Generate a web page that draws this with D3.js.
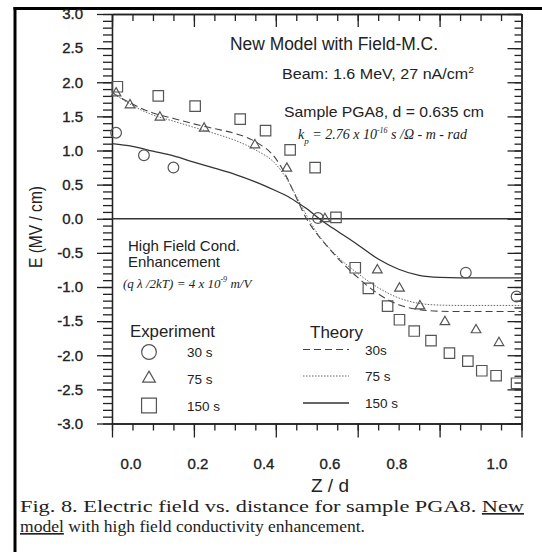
<!DOCTYPE html>
<html><head><meta charset="utf-8">
<script src="https://cdn.jsdelivr.net/npm/d3@7"></script>
<style>body{margin:0;background:#fff}svg{display:block}</style>
</head><body><svg id="c" width="542" height="552"></svg>
<script>
// ---- data ----
const zTheory   = [0, 0.05, 0.1, 0.15, 0.2, 0.25, 0.3, 0.35, 0.4, 0.425, 0.45, 0.475, 0.5, 0.525, 0.55, 0.6, 0.65, 0.7, 0.75, 0.8, 0.85, 0.9, 0.95, 1.0];
const e30Theory = [1.85, 1.68, 1.55, 1.47, 1.39, 1.32, 1.25, 1.13, 0.88, 0.63, 0.31, 0.0, -0.22, -0.40, -0.57, -0.86, -1.10, -1.26, -1.33, -1.355, -1.36, -1.36, -1.36, -1.36];
const e75Theory = [1.85, 1.66, 1.52, 1.43, 1.34, 1.25, 1.15, 1.01, 0.80, 0.60, 0.33, 0.05, -0.20, -0.39, -0.55, -0.80, -1.01, -1.16, -1.24, -1.265, -1.27, -1.27, -1.27, -1.27];
const e150Theory= [1.10, 1.06, 0.99, 0.92, 0.83, 0.74, 0.65, 0.54, 0.41, 0.34, 0.25, 0.15, 0.03, -0.08, -0.18, -0.38, -0.59, -0.74, -0.83, -0.86, -0.865, -0.865, -0.865, -0.865];

const z30Exp  = [0.01, 0.078, 0.15, 0.503, 0.864, 0.988];
const e30Exp  = [1.26, 0.93, 0.75, 0.01, -0.79, -1.14];
const z75Exp  = [0.01, 0.044, 0.117, 0.225, 0.349, 0.427, 0.52, 0.648, 0.702, 0.752, 0.813, 0.889, 0.945];
const e75Exp  = [1.84, 1.666, 1.486, 1.325, 1.08, 0.738, 0.0, -0.752, -1.02, -1.28, -1.51, -1.63, -1.817];
const z150Exp = [0.013, 0.113, 0.203, 0.313, 0.375, 0.435, 0.496, 0.547, 0.594, 0.626, 0.673, 0.702, 0.738, 0.779, 0.824, 0.869, 0.903, 0.938, 0.988];
const e150Exp = [1.934, 1.80, 1.65, 1.46, 1.29, 1.01, 0.75, 0.02, -0.718, -1.02, -1.28, -1.48, -1.645, -1.787, -1.97, -2.085, -2.227, -2.30, -2.41];

const xTickValues = [0, 0.2, 0.4, 0.6, 0.8, 1.0];
const xTickLabels = ["0.0", "0.2", "0.4", "0.6", "0.8", "1.0"];
const yTickValues = [3, 2.5, 2, 1.5, 1, 0.5, 0, -0.5, -1, -1.5, -2, -2.5, -3];
const yTickLabels = ["3.0","2.5","2.0","1.5","1.0","0.5","0.0","-0.5","-1.0","-1.5","-2.0","-2.5","-3.0"];
const legendTimes = ["30 s", "75 s", "150 s"];
const theoryTimes = ["30s", "75 s", "150 s"];

// ---- drawing ----
const svg = d3.select("#c");
const SANS = "'Liberation Sans', Arial, sans-serif";
const SERIF = "'Liberation Serif', 'Times New Roman', serif";
const INK = "#222";

const x = d3.scaleLinear().domain([0, 1]).range([112, 521.5]);
const y = d3.scaleLinear().domain([-3, 3]).range([423.5, 14]);
// tick labels in the scanned figure sit off their ticks
const xLabelPos = d3.scaleLinear().domain(xTickValues).range([131, 198, 264, 330, 397, 497]);

// frame border (scan edge)
svg.append("line").attr("x1", 13.5).attr("x2", 542).attr("y1", 8.5).attr("y2", 8.5).attr("stroke", "#000").attr("stroke-width", 3);
svg.append("line").attr("x1", 15).attr("x2", 15).attr("y1", 7).attr("y2", 552).attr("stroke", "#000").attr("stroke-width", 3);

const minorX = d3.range(0, 1.0001, 0.05).map(v => +v.toFixed(2));
const minorY = d3.range(-3, 3.0001, 0.1).map(v => +v.toFixed(1));

function styleAxis(g) {
  g.selectAll("path").attr("stroke", INK).attr("stroke-width", 1.3);
  g.selectAll("line").attr("stroke", INK).attr("stroke-width", 1.3);
}
// left axis (ticks out)
const gL = svg.append("g").attr("transform", `translate(${x(0)},0)`);
gL.call(d3.axisLeft(y).tickValues(minorY).tickSize(9).tickFormat("").tickSizeOuter(0)).call(styleAxis);
const gL2 = svg.append("g").attr("transform", `translate(${x(0)},0)`);
gL2.call(d3.axisLeft(y).tickValues(yTickValues).tickSize(15).tickPadding(14)
  .tickFormat((d, i) => yTickLabels[i]).tickSizeOuter(0)).call(styleAxis);
gL2.selectAll("text").attr("font-family", SANS).attr("font-size", 15).attr("fill", INK)
  .attr("stroke", INK).attr("stroke-width", 0.35);
// right axis (ticks pointing in)
const gR = svg.append("g").attr("transform", `translate(${x(1)},0)`);
gR.call(d3.axisLeft(y).tickValues(minorY).tickSize(7).tickFormat("").tickSizeOuter(0)).call(styleAxis);
const gR2 = svg.append("g").attr("transform", `translate(${x(1)},0)`);
gR2.call(d3.axisLeft(y).tickValues(yTickValues).tickSize(14).tickFormat("").tickSizeOuter(0)).call(styleAxis);
// bottom axis (ticks out)
const gB = svg.append("g").attr("transform", `translate(0,${y(-3)})`);
gB.call(d3.axisBottom(x).tickValues(minorX).tickSize(7).tickFormat("").tickSizeOuter(0)).call(styleAxis);
const gB2 = svg.append("g").attr("transform", `translate(0,${y(-3)})`);
gB2.call(d3.axisBottom(x).tickValues(xTickValues).tickSize(14).tickFormat("").tickSizeOuter(0)).call(styleAxis);
// top axis (ticks pointing in)
const gT = svg.append("g").attr("transform", `translate(0,${y(3)})`);
gT.call(d3.axisBottom(x).tickValues(minorX).tickSize(7).tickFormat("").tickSizeOuter(0)).call(styleAxis);
const gT2 = svg.append("g").attr("transform", `translate(0,${y(3)})`);
gT2.call(d3.axisBottom(x).tickValues(xTickValues).tickSize(13).tickFormat("").tickSizeOuter(0)).call(styleAxis);

// x tick labels
svg.append("g").selectAll("text").data(xTickValues).join("text")
  .attr("x", d => xLabelPos(d)).attr("y", 469).attr("text-anchor", "middle")
  .attr("font-family", SANS).attr("font-size", 15).attr("fill", INK).attr("stroke", INK).attr("stroke-width", 0.35)
  .text((d, i) => xTickLabels[i]);

// axis titles
svg.append("text").attr("x", 330).attr("y", 492).attr("text-anchor", "middle")
  .attr("font-family", SANS).attr("font-size", 19).attr("fill", INK).text("Z / d");
svg.append("text").attr("transform", "translate(42,227) rotate(-90)").attr("text-anchor", "middle")
  .attr("font-family", SANS).attr("font-size", 18).attr("fill", INK).attr("textLength", 82)
  .attr("lengthAdjust", "spacingAndGlyphs").text("E (MV / cm)");

// zero line
svg.append("line").attr("x1", x(0)).attr("x2", x(1)).attr("y1", y(0)).attr("y2", y(0))
  .attr("stroke", "#333").attr("stroke-width", 1.5);

// theory curves
const line = d3.line().x(d => x(d[0])).y(d => y(d[1])).curve(d3.curveMonotoneX);
const theory = [
  {v: e30Theory, dash: "7,4", w: 1.1, c: "#444"},
  {v: e75Theory, dash: "1.5,1.5", w: 1.0, c: "#666"},
  {v: e150Theory, dash: null, w: 1.3, c: "#333"}
];
theory.forEach(t => {
  svg.append("path").datum(zTheory.map((z, i) => [z, t.v[i]]))
    .attr("d", line).attr("fill", "none").attr("stroke", t.c).attr("stroke-width", t.w)
    .attr("stroke-dasharray", t.dash);
});

// markers
const MK = "#555";
function drawMarkers(zs, es, type, size) {
  svg.append("g").selectAll("path").data(zs.map((z, i) => [z, es[i]])).join("path")
    .attr("transform", d => `translate(${x(d[0])},${y(d[1])})`)
    .attr("d", d3.symbol().type(type).size(size)())
    .attr("fill", "none").attr("stroke", MK).attr("stroke-width", 1.2);
}
drawMarkers(z30Exp, e30Exp, d3.symbolCircle, 90);
drawMarkers(z75Exp, e75Exp, d3.symbolTriangle, 40);
drawMarkers(z150Exp, e150Exp, d3.symbolSquare, 110);

// annotations
function txt(s, xx, yy, size, opts = {}) {
  const t = svg.append("text").attr("x", xx).attr("y", yy).attr("font-family", opts.family || SANS)
    .attr("font-size", size).attr("fill", INK);
  if (opts.italic) t.attr("font-style", "italic");
  if (opts.len) t.attr("textLength", opts.len).attr("lengthAdjust", "spacingAndGlyphs");
  if (s !== null) t.text(s);
  return t;
}
txt("New Model with Field-M.C.", 230, 50, 18, {len: 208});
const beam = txt(null, 282, 79, 14, {len: 192});
beam.append("tspan").text("Beam: 1.6 MeV, 27 nA/cm");
beam.append("tspan").attr("dy", -6).attr("font-size", 9).text("2");
txt("Sample PGA8, d = 0.635 cm", 284, 117, 15, {len: 200});
const kp = txt(null, 298, 139, 14, {family: SERIF, italic: true});
kp.append("tspan").text("k");
kp.append("tspan").attr("dy", 5).attr("font-size", 9).text("p");
kp.append("tspan").attr("dy", -5).text(" = 2.76 x 10");
kp.append("tspan").attr("dy", -6).attr("font-size", 8).text("-16");
kp.append("tspan").attr("dy", 6).text(" s /Ω - m - rad");

txt("High Field Cond.", 128, 251, 15, {len: 112});
txt("Enhancement", 128, 267, 15, {len: 92});
const fm = txt(null, 123, 288, 13, {family: SERIF, italic: true});
fm.append("tspan").text("(q λ /2kT) = 4 x 10");
fm.append("tspan").attr("dy", -6).attr("font-size", 8).text("-9");
fm.append("tspan").attr("dy", 6).text(" m/V");

// legend: experiment
txt("Experiment", 130, 337, 16, {len: 85});
const legY = [352, 378.5, 405.5];
[[d3.symbolCircle, 170], [d3.symbolTriangle, 70], [d3.symbolSquare, 220]].forEach((s, i) => {
  svg.append("path").attr("transform", `translate(149,${legY[i]})`)
    .attr("d", d3.symbol().type(s[0]).size(s[1])())
    .attr("fill", "none").attr("stroke", MK).attr("stroke-width", 1.2);
  txt(legendTimes[i], 187, legY[i] + 5, 13.5);
});
// legend: theory
txt("Theory", 310, 338, 17, {len: 53});
theory.forEach((t, i) => {
  svg.append("line").attr("x1", 303).attr("x2", 349).attr("y1", legY[i] - 2.5).attr("y2", legY[i] - 2.5)
    .attr("stroke", t.c).attr("stroke-width", t.w).attr("stroke-dasharray", t.dash);
  txt(theoryTimes[i], 365, legY[i] + 2.5, 13.5);
});

// caption
const c1 = txt(null, 20, 512, 16.5, {family: SERIF, len: 504});
c1.append("tspan").text("Fig. 8. Electric field vs. distance for sample PGA8. ");
c1.append("tspan").attr("text-decoration", "underline").text("New");
const c2 = txt(null, 20, 532, 16.5, {family: SERIF, len: 345});
c2.append("tspan").attr("text-decoration", "underline").text("model");
c2.append("tspan").text(" with high field conductivity enhancement.");
</script>
</body></html>
